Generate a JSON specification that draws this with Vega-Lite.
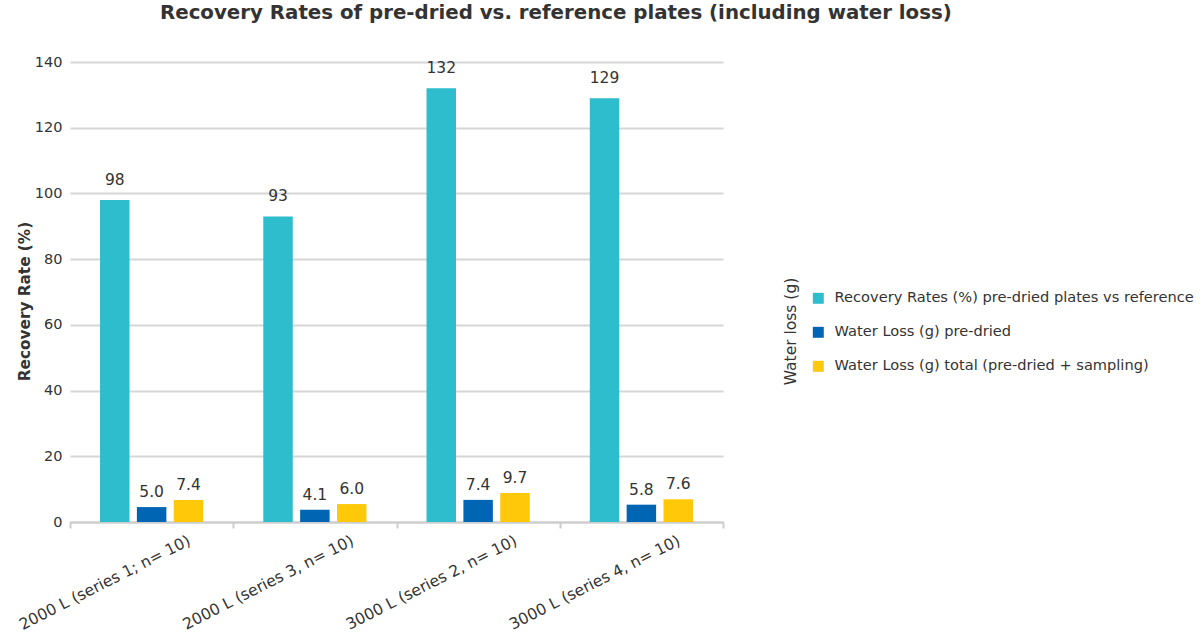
{
  "$schema": "https://vega.github.io/schema/vega-lite/v6.json",
  "width": 653,
  "height": 460,
  "autosize": {"type": "none"},
  "padding": {"left": 70, "top": 62, "right": 478, "bottom": 119},
  "background": "white",
  "config": {
    "font": "DejaVu Sans",
    "view": {"stroke": null},
    "axis": {"labelColor": "#333333", "titleColor": "#333333"}
  },
  "title": {
    "text": "Recovery Rates of pre-dried vs. reference plates (including water loss)",
    "anchor": "start",
    "frame": "group",
    "dx": 90,
    "fontSize": 19.8,
    "fontWeight": "bold",
    "color": "#333333",
    "offset": 31
  },
  "data": {
    "values": [
      {"category": "2000 L (series 1; n= 10)", "series": "Recovery Rates (%) pre-dried plates vs reference", "value": 98},
      {"category": "2000 L (series 3, n= 10)", "series": "Recovery Rates (%) pre-dried plates vs reference", "value": 93},
      {"category": "3000 L (series 2, n= 10)", "series": "Recovery Rates (%) pre-dried plates vs reference", "value": 132},
      {"category": "3000 L (series 4, n= 10)", "series": "Recovery Rates (%) pre-dried plates vs reference", "value": 129},
      {"category": "2000 L (series 1; n= 10)", "series": "Water Loss (g) pre-dried", "value": 5.0},
      {"category": "2000 L (series 3, n= 10)", "series": "Water Loss (g) pre-dried", "value": 4.1},
      {"category": "3000 L (series 2, n= 10)", "series": "Water Loss (g) pre-dried", "value": 7.4},
      {"category": "3000 L (series 4, n= 10)", "series": "Water Loss (g) pre-dried", "value": 5.8},
      {"category": "2000 L (series 1; n= 10)", "series": "Water Loss (g) total (pre-dried + sampling)", "value": 7.4},
      {"category": "2000 L (series 3, n= 10)", "series": "Water Loss (g) total (pre-dried + sampling)", "value": 6.0},
      {"category": "3000 L (series 2, n= 10)", "series": "Water Loss (g) total (pre-dried + sampling)", "value": 9.7},
      {"category": "3000 L (series 4, n= 10)", "series": "Water Loss (g) total (pre-dried + sampling)", "value": 7.6}
    ]
  },
  "encoding": {
    "x": {
      "field": "category",
      "type": "nominal",
      "sort": null,
      "title": null,
      "scale": {"paddingInner": 0, "paddingOuter": 0},
      "axis": {
        "tickBand": "extent",
        "domainColor": "#cccccc",
        "domainWidth": 2,
        "tickColor": "#cccccc",
        "tickWidth": 2,
        "tickSize": 6,
        "labelAngle": -27,
        "labelAlign": "right",
        "labelBaseline": "top",
        "labelFontSize": 15.6,
        "labelOffset": 34,
        "labelPadding": 5,
        "labelLimit": 400,
        "grid": false
      }
    },
    "xOffset": {
      "field": "series",
      "type": "nominal",
      "sort": null,
      "scale": {
        "domain": [
          "Recovery Rates (%) pre-dried plates vs reference",
          "Water Loss (g) pre-dried",
          "Water Loss (g) total (pre-dried + sampling)"
        ],
        "paddingInner": 0.2,
        "paddingOuter": 0.815
      }
    },
    "color": {
      "field": "series",
      "type": "nominal",
      "sort": null,
      "scale": {
        "domain": [
          "Recovery Rates (%) pre-dried plates vs reference",
          "Water Loss (g) pre-dried",
          "Water Loss (g) total (pre-dried + sampling)"
        ],
        "range": ["#2ebdcc", "#0066b3", "#ffc808"]
      },
      "legend": {
        "title": null,
        "orient": "none",
        "legendX": 741,
        "legendY": 229,
        "symbolType": "square",
        "symbolSize": 120,
        "symbolStrokeWidth": 0,
        "labelFontSize": 14.6,
        "labelColor": "#333333",
        "labelLimit": 500,
        "rowPadding": 19,
        "labelOffset": 9
      }
    }
  },
  "layer": [
    {
      "transform": [{"filter": "datum.series === 'Recovery Rates (%) pre-dried plates vs reference'"}],
      "encoding": {
        "y": {
          "field": "value",
          "type": "quantitative",
          "scale": {"domain": [0, 140]},
          "axis": {
            "title": "Recovery Rate (%)",
            "titleFontSize": 15.3,
            "titleFontWeight": "bold",
            "titleAngle": -90,
            "titleX": -46,
            "titleY": 239,
            "titleAlign": "center",
            "titleBaseline": "middle",
            "values": [0, 20, 40, 60, 80, 100, 120, 140],
            "domain": false,
            "ticks": false,
            "labelFontSize": 14.5,
            "labelPadding": 8,
            "gridColor": "#d6d6d6",
            "gridWidth": 2
          }
        }
      },
      "layer": [
        {"mark": {"type": "bar"}},
        {
          "mark": {"type": "text", "baseline": "bottom", "dy": -12, "fontSize": 15.5, "color": "#333333"},
          "encoding": {"text": {"field": "value", "type": "quantitative", "format": ".0f"}, "color": {"value": "#333333"}}
        }
      ]
    },
    {
      "transform": [{"filter": "datum.series !== 'Recovery Rates (%) pre-dried plates vs reference'"}],
      "encoding": {
        "y": {
          "field": "value",
          "type": "quantitative",
          "scale": {"domain": [0, 154]},
          "axis": {
            "orient": "right",
            "title": "Water loss (g)",
            "titleFontSize": 15.5,
            "titleFontWeight": "normal",
            "titleAngle": -90,
            "titleX": 67,
            "titleY": 269,
            "titleAlign": "center",
            "titleBaseline": "middle",
            "labels": false,
            "ticks": false,
            "domain": false,
            "grid": false
          }
        }
      },
      "layer": [
        {"mark": {"type": "bar"}},
        {
          "mark": {"type": "text", "baseline": "bottom", "dy": -7, "fontSize": 15.5, "color": "#333333"},
          "encoding": {"text": {"field": "value", "type": "quantitative", "format": ".1f"}, "color": {"value": "#333333"}}
        }
      ]
    }
  ],
  "resolve": {"scale": {"y": "independent"}}
}
